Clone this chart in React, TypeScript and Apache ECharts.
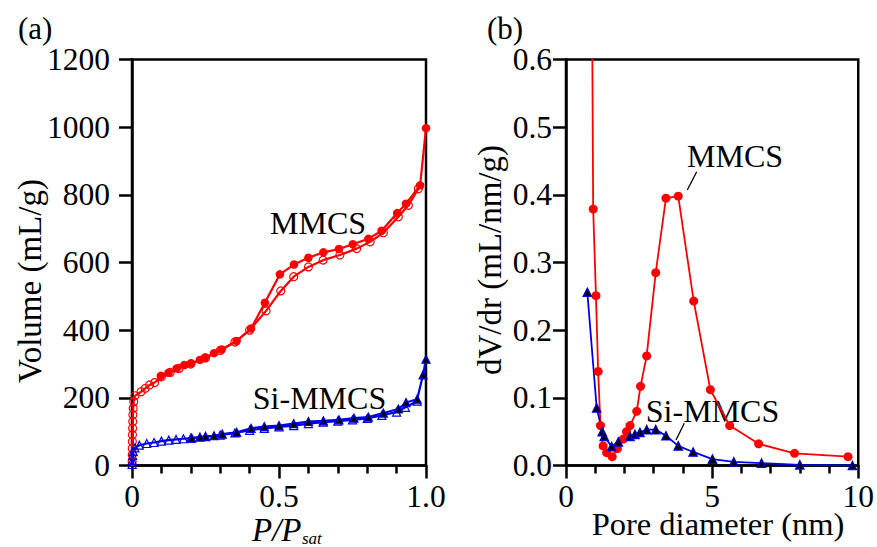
import React, { useEffect, useRef } from 'react';
import * as echarts from 'echarts';

const FONT = 'Liberation Serif';
const RED = '#ff0000';
const BLUE = '#0000e6';

// Panel (a): N2 isotherms, [P/Psat, Volume mL/g]
const mmcsAdsorption: [number, number][] = [
  [0.0005, 12], [0.0008, 32], [0.001, 51], [0.0012, 71], [0.0015, 91], [0.002, 110],
  [0.0025, 130], [0.003, 150], [0.004, 169], [0.006, 189], [0.01, 206], [0.031, 218],
  [0.045, 228], [0.06, 238], [0.077, 245], [0.1, 262], [0.13, 275], [0.16, 287],
  [0.2, 300], [0.25, 318], [0.3, 340], [0.35, 365], [0.4, 400], [0.456, 457],
  [0.506, 516], [0.55, 558], [0.6, 587], [0.65, 607], [0.707, 622], [0.764, 641],
  [0.81, 661], [0.855, 688], [0.906, 735], [0.94, 769], [0.974, 818],
];
const mmcsDesorption: [number, number][] = [
  [1.0, 997], [0.98, 828], [0.932, 774], [0.902, 746], [0.849, 694], [0.804, 670],
  [0.751, 654], [0.704, 640], [0.651, 630], [0.6, 614], [0.551, 594], [0.503, 565],
  [0.452, 481], [0.405, 405], [0.356, 368], [0.305, 343], [0.279, 332], [0.248, 319],
  [0.231, 312], [0.201, 302], [0.178, 297], [0.152, 287], [0.124, 274], [0.098, 265],
];
const siAdsorption: [number, number][] = [
  [0.0005, 3], [0.001, 15], [0.002, 30], [0.004, 42], [0.01, 52], [0.025, 60],
  [0.05, 65], [0.075, 68], [0.1, 72], [0.125, 75], [0.15, 77], [0.175, 79],
  [0.2, 81], [0.25, 85], [0.3, 90], [0.35, 96], [0.4, 104], [0.45, 110],
  [0.5, 114], [0.55, 118], [0.6, 124], [0.65, 128], [0.7, 131], [0.75, 135],
  [0.8, 139], [0.85, 148], [0.9, 158], [0.93, 172], [0.97, 190],
];
const siDesorption: [number, number][] = [
  [1.0, 314], [0.99, 268], [0.97, 196], [0.932, 186], [0.906, 167], [0.855, 155],
  [0.804, 143], [0.755, 140], [0.704, 135], [0.651, 132], [0.6, 130], [0.55, 124],
  [0.5, 118], [0.45, 115], [0.405, 110], [0.356, 98], [0.307, 93], [0.279, 88],
  [0.25, 86], [0.231, 84], [0.203, 81],
];

// Panel (b): pore size distribution, [pore diameter nm, dV/dr]
const mmcsPsd: [number, number][] = [
  [0.85, 1.0], [0.93, 0.379], [1.025, 0.251], [1.1, 0.139], [1.18, 0.059], [1.27, 0.029],
  [1.39, 0.019], [1.58, 0.013], [1.76, 0.025], [1.96, 0.039], [2.07, 0.05], [2.19, 0.059],
  [2.42, 0.08], [2.55, 0.117], [2.76, 0.162], [3.07, 0.285], [3.42, 0.395], [3.84, 0.398],
  [4.37, 0.243], [4.94, 0.112], [5.6, 0.059], [6.59, 0.032], [7.82, 0.018], [9.65, 0.013],
];
const siPsd: [number, number][] = [
  [0.73, 0.256], [1.05, 0.085], [1.24, 0.05], [1.31, 0.043], [1.56, 0.028], [1.79, 0.035],
  [2.19, 0.043], [2.36, 0.046], [2.53, 0.049], [2.76, 0.053], [3.07, 0.053], [3.42, 0.044],
  [3.84, 0.029], [4.35, 0.02], [5.01, 0.0095], [5.74, 0.0055], [6.69, 0.0035], [8.0, 0.001],
  [9.8, 0.0],
];

const xTicksA = { min: 0, max: 1, interval: 0.5 };
const yTicksA = { min: 0, max: 1200, interval: 200 };
const xTicksB = { min: 0, max: 10, interval: 5 };
const yTicksB = { min: 0, max: 0.6, interval: 0.1 };

const axisLine = { show: true, onZero: false, lineStyle: { color: '#000', width: 2.5 } };
const tickStyle = { color: '#000', width: 2.5 };
const labelBase = { fontSize: 31.5, fontFamily: FONT, color: '#000' };

function xAxisCfg(gridIndex: number, t: any, fmt: (v: number) => string) {
  return {
    type: 'value', gridIndex, ...t,
    axisLine,
    axisTick: { show: true, inside: false, length: 13, lineStyle: tickStyle },
    minorTick: { show: true, splitNumber: 5, length: 8, lineStyle: tickStyle },
    splitLine: { show: false }, minorSplitLine: { show: false },
    axisLabel: { ...labelBase, lineHeight: 20, margin: 21, formatter: fmt },
  };
}
function yAxisCfg(gridIndex: number, t: any, fmt: (v: number) => string, margin: number) {
  return {
    type: 'value', gridIndex, ...t,
    axisLine,
    axisTick: { show: true, inside: false, length: 13, lineStyle: tickStyle },
    splitLine: { show: false },
    axisLabel: { ...labelBase, margin, formatter: fmt },
  };
}

function txt(text: string, x: number, y: number, size: number, extra: any = {}) {
  return {
    type: 'text', x, y, silent: true, rotation: extra.rotation || 0,
    style: {
      text, fontSize: size, fontFamily: FONT, fill: '#000',
      textAlign: extra.align || 'center', textVerticalAlign: 'middle',
      fontStyle: extra.italic ? 'italic' : 'normal',
      lineHeight: extra.lineHeight,
    },
  };
}

export default function App() {
  const ref = useRef<HTMLDivElement>(null);
  useEffect(() => {
    const chart = echarts.init(ref.current!, null, { renderer: 'svg' });
    const option: any = {
      animation: false,
      backgroundColor: '#fff',
      textStyle: { fontFamily: FONT },
      grid: [
        { left: 132, top: 59.5, width: 294, height: 406, show: true, borderColor: '#000', borderWidth: 2.5 },
        { left: 566, top: 59.5, width: 292.5, height: 406, show: true, borderColor: '#000', borderWidth: 2.5 },
      ],
      xAxis: [
        xAxisCfg(0, xTicksA, (v) => (v === 0 ? '0' : v.toFixed(1))),
        xAxisCfg(1, xTicksB, (v) => String(v)),
      ],
      yAxis: [
        yAxisCfg(0, yTicksA, (v) => String(v), 22),
        yAxisCfg(1, yTicksB, (v) => v.toFixed(1), 14),
      ],
      series: [
        {
          type: 'line', xAxisIndex: 0, yAxisIndex: 0, data: mmcsAdsorption,
          symbol: 'circle', symbolSize: 8,
          lineStyle: { color: RED, width: 2.2 },
          itemStyle: { color: 'rgba(255,255,255,0)', borderColor: RED, borderWidth: 1.2 },
        },
        {
          type: 'line', xAxisIndex: 0, yAxisIndex: 0, data: mmcsDesorption,
          symbol: 'circle', symbolSize: 8.5,
          lineStyle: { color: RED, width: 2.2 },
          itemStyle: { color: RED },
        },
        {
          type: 'line', xAxisIndex: 0, yAxisIndex: 0, data: siAdsorption,
          symbol: 'triangle', symbolSize: 8,
          lineStyle: { color: BLUE, width: 2.2 },
          itemStyle: { color: 'rgba(255,255,255,0)', borderColor: BLUE, borderWidth: 1.2 },
        },
        {
          type: 'line', xAxisIndex: 0, yAxisIndex: 0, data: siDesorption,
          symbol: 'triangle', symbolSize: 8,
          lineStyle: { color: BLUE, width: 2.2 },
          itemStyle: { color: '#000', borderColor: BLUE, borderWidth: 1.2 },
        },
        {
          type: 'line', xAxisIndex: 1, yAxisIndex: 1, data: mmcsPsd,
          symbol: 'circle', symbolSize: 9,
          lineStyle: { color: RED, width: 1.8 },
          itemStyle: { color: RED },
        },
        {
          type: 'line', xAxisIndex: 1, yAxisIndex: 1, data: siPsd,
          symbol: 'triangle', symbolSize: 8.5,
          lineStyle: { color: BLUE, width: 1.8 },
          itemStyle: { color: '#000', borderColor: BLUE, borderWidth: 1.2 },
        },
      ],
      graphic: [
        txt('(a)', 18, 28, 31, { align: 'left' }),
        txt('(b)', 487, 28, 31, { align: 'left' }),
        txt('Volume (mL/g)', 30, 281, 33, { rotation: Math.PI / 2 }),
        txt('dV/dr (mL/nm/g)', 490, 260, 33, { rotation: Math.PI / 2 }),
        txt('P/P', 252, 530, 33, { align: 'left', italic: true, lineHeight: 24 }),
        txt('sat', 302, 538.5, 17, { align: 'left', italic: true, lineHeight: 14 }),
        txt('Pore diameter (nm)', 718, 523.5, 32.5, { lineHeight: 20 }),
        txt('MMCS', 318, 222.5, 32),
        txt('Si-MMCS', 319.5, 397.5, 32),
        txt('MMCS', 735, 156, 32),
        txt('Si-MMCS', 712.5, 411, 32),
        { type: 'line', silent: true, shape: { x1: 696.7, y1: 171.7, x2: 687.3, y2: 190 }, style: { stroke: '#000', lineWidth: 1.3 } },
        { type: 'line', silent: true, shape: { x1: 684.3, y1: 423.3, x2: 676, y2: 440 }, style: { stroke: '#000', lineWidth: 1.3 } },
      ],
    };
    chart.setOption(option);
    return () => chart.dispose();
  }, []);
  return (
    <div
      ref={ref}
      style={{ position: 'fixed', left: 0, top: 0, width: 877, height: 547, background: '#fff' }}
    />
  );
}
